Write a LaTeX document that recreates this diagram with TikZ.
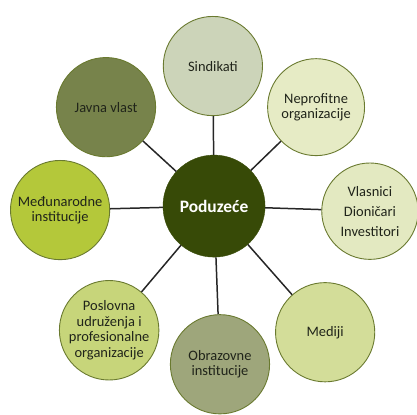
\documentclass[tikz,border=0pt]{standalone}
\usepackage{fontspec}
\setmainfont{Carlito}
\usepackage{xcolor}
\usepackage{tikz}
\definecolor{PZHub}{HTML}{374A07}
\definecolor{PZEdge}{HTML}{6A7A30}
\definecolor{PZLine}{HTML}{262626}
\definecolor{PZText}{HTML}{20241A}
\definecolor{PZSind}{HTML}{CCD4B9}
\definecolor{PZVlast}{HTML}{77834B}
\definecolor{PZNeprof}{HTML}{E6EBC5}
\definecolor{PZMedj}{HTML}{B4C83A}
\definecolor{PZVlasn}{HTML}{E3E9C1}
\definecolor{PZPosl}{HTML}{C7D57A}
\definecolor{PZObraz}{HTML}{9EA67B}
\definecolor{PZMedia}{HTML}{D3DD99}

\tikzset{
  actor/.style={circle,draw=PZEdge,line width=0.9pt,minimum size=3.50cm,inner sep=0pt,
    align=center,text=PZText,font=\fontsize{14.5}{15.5}\selectfont},
  link/.style={draw=PZLine,line width=1.5pt}
}

\begin{document}
\begin{tikzpicture}[x=1cm,y=1cm]
\path[use as bounding box] (0,0) rectangle (14.71,14.61);
\node[circle,fill=PZHub,draw=PZHub,minimum size=3.60cm,inner sep=0pt,text=white,
  font=\fontsize{17.5}{19}\selectfont\bfseries] (hub) at (7.55,7.34) {Poduzeće};
\node[actor,fill=PZSind] (sind) at (7.51,12.28) {Sindikati};
\node[actor,fill=PZVlast] (vlast) at (3.74,10.83) {Javna vlast};
\node[actor,fill=PZNeprof,minimum size=3.42cm] (neprof) at (11.15,10.83) {Neprofitne\\organizacije};
\node[actor,fill=PZMedj] (medj) at (2.12,7.20) {Međunarodne\\institucije};
\node[actor,fill=PZVlasn,minimum size=3.40cm,font=\fontsize{14.5}{20}\selectfont] (vlasn) at (13.05,7.16) {Vlasnici\\Dioničari\\Investitori};
\node[actor,fill=PZPosl] (posl) at (3.85,2.96) {Poslovna\\udruženja i\\profesionalne\\organizacije};
\node[actor,fill=PZObraz] (obraz) at (7.76,1.76) {Obrazovne\\institucije};
\node[actor,fill=PZMedia] (media) at (11.47,2.89) {Mediji};
\foreach \n in {sind,vlast,neprof,medj,vlasn,posl,obraz,media}
  \draw[link] (hub) -- (\n);
\end{tikzpicture}
\end{document}
